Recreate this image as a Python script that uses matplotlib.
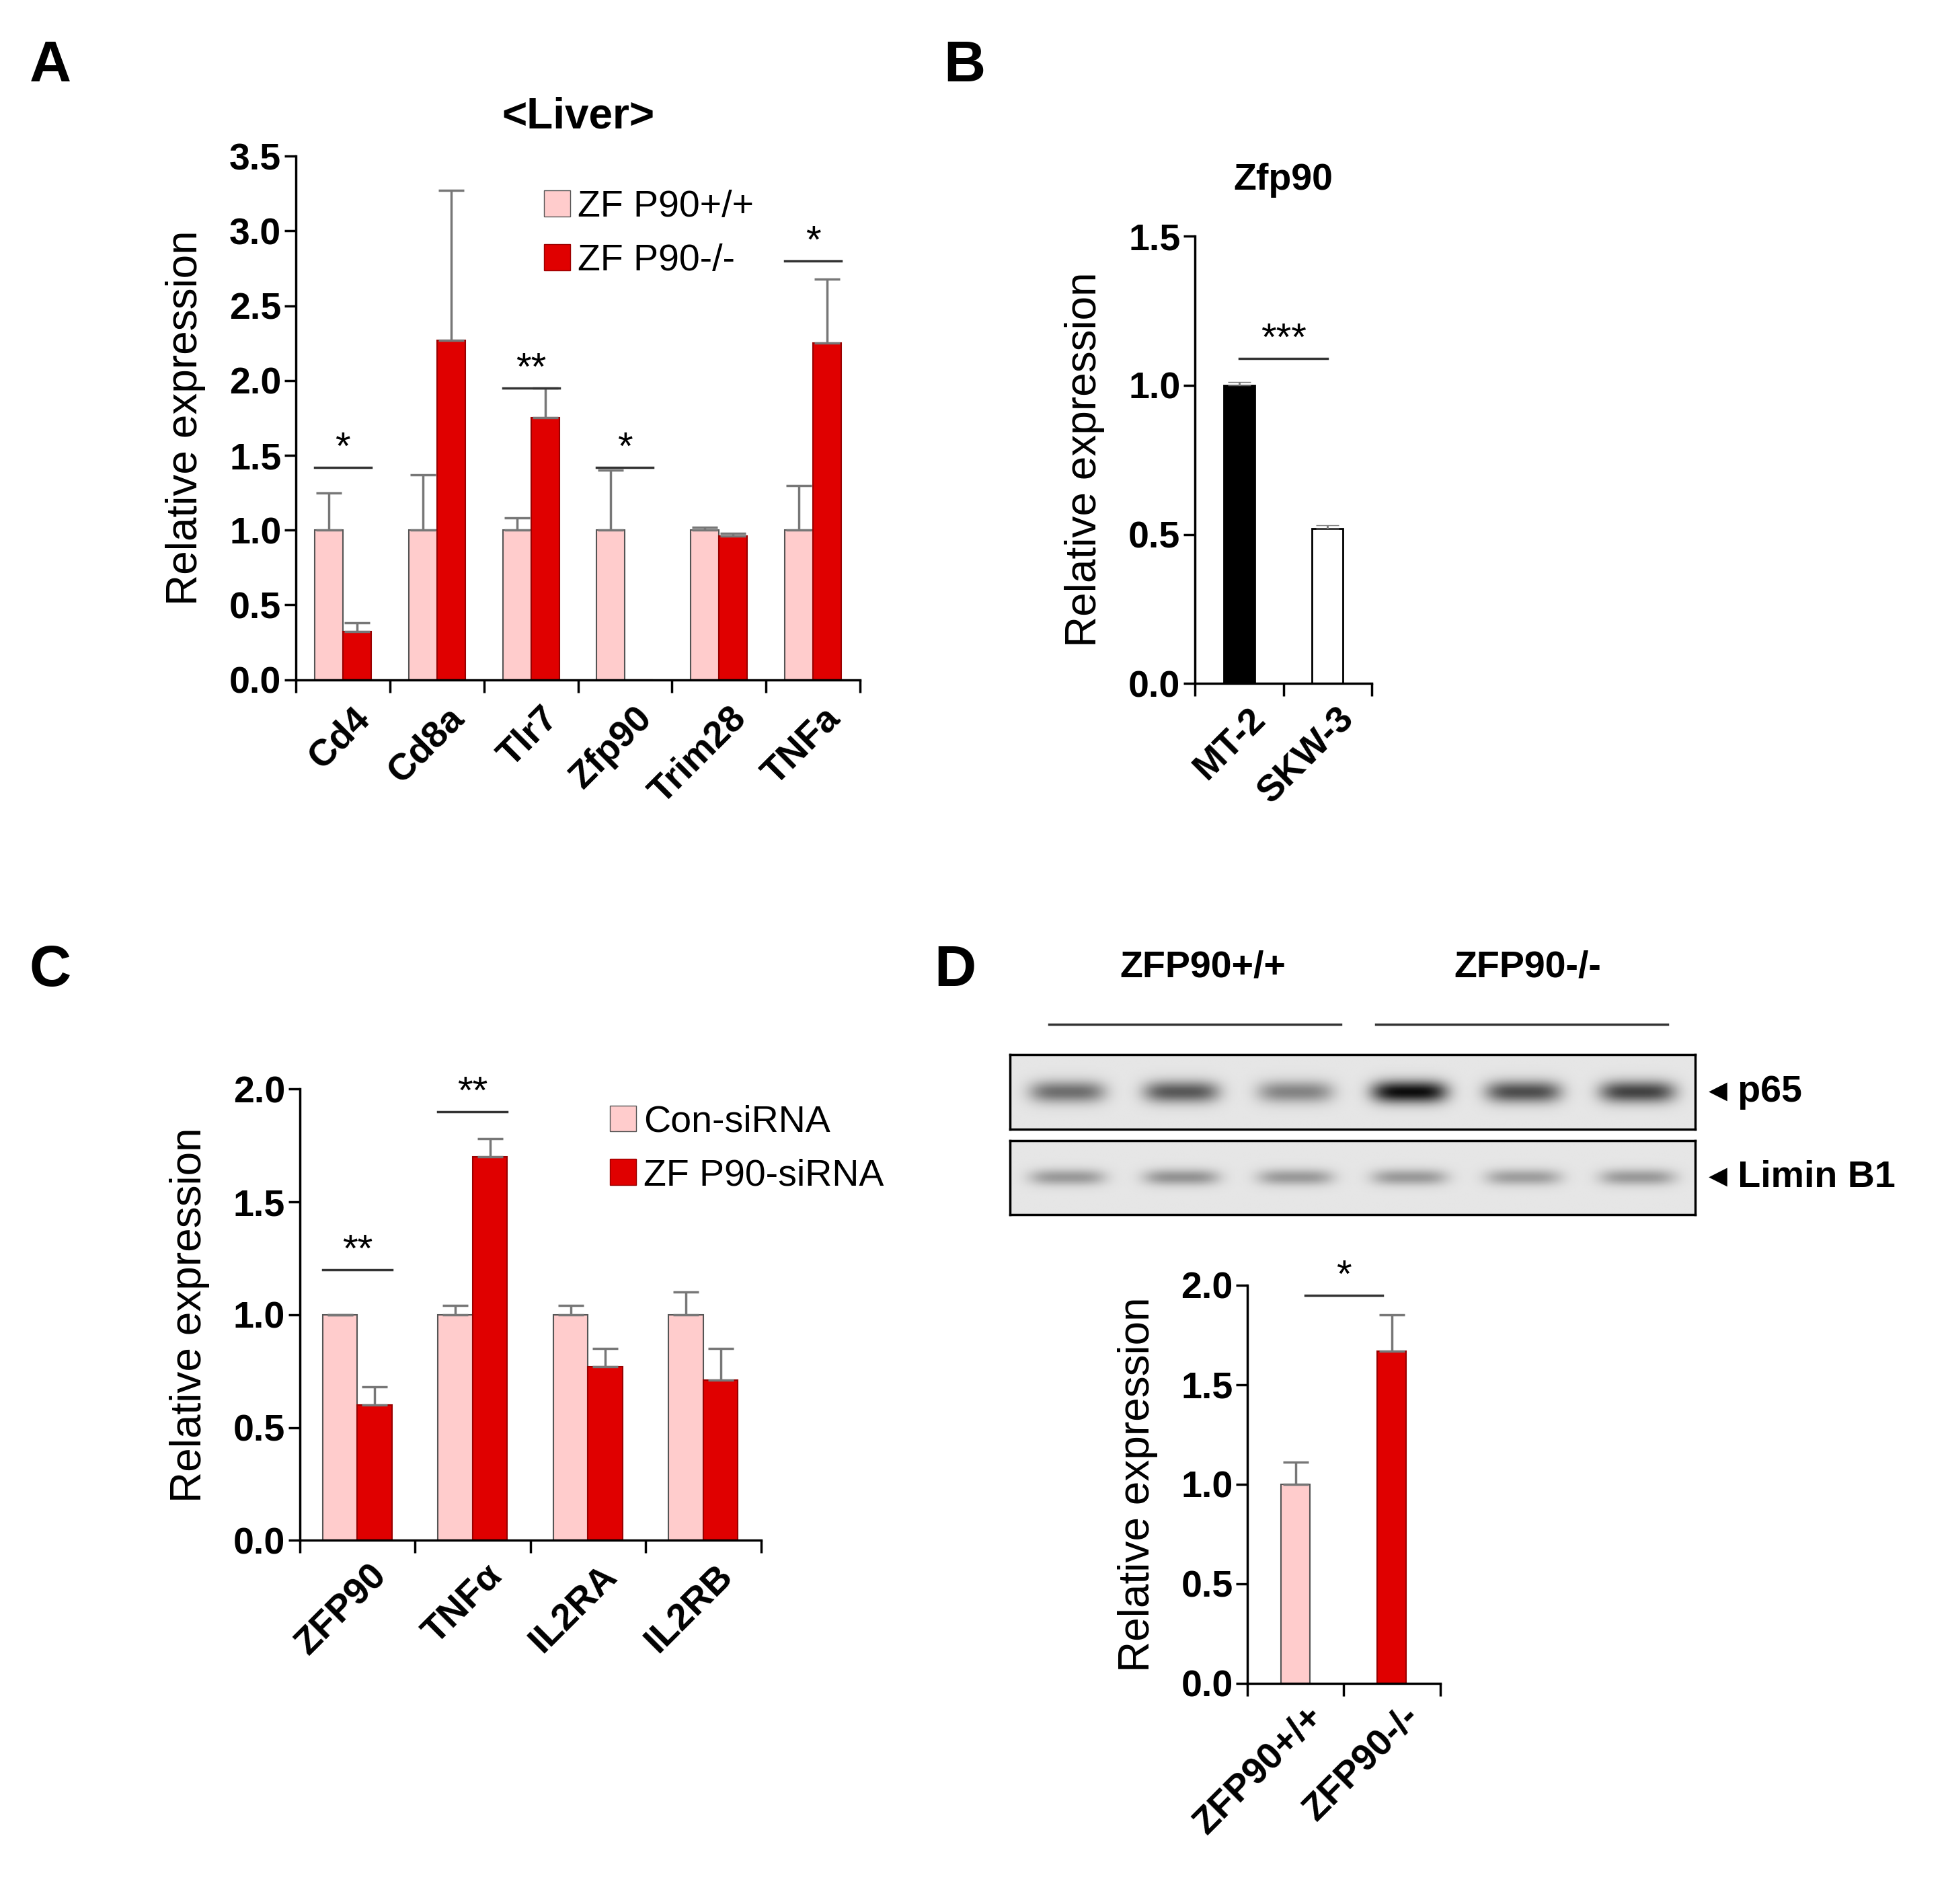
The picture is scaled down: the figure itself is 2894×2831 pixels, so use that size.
import numpy as np
import matplotlib
matplotlib.use("Agg")
import matplotlib.pyplot as plt

plt.rcParams['font.family'] = ['Liberation Sans', 'DejaVu Sans']

PINK = '#FFCCCC'
RED = '#E00000'
EDGE = '#555555'

# Panel A
genes_a = ['Cd4', 'Cd8a', 'Tlr7', 'Zfp90', 'Trim28', 'TNFa']
wt_a = [1.0, 1.0, 1.0, 1.0, 1.0, 1.0]
wt_a_err = [0.25, 0.37, 0.08, 0.40, 0.02, 0.30]
ko_a = [0.32, 2.27, 1.75, 0.0, 0.96, 2.25]
ko_a_err = [0.06, 1.0, 0.20, 0.0, 0.02, 0.43]
sig_a = [(0, 1.42, '*'), (2, 1.95, '**'), (3, 1.42, '*'), (5, 2.8, '*')]

# Panel B
cells_b = ['MT-2', 'SKW-3']
vals_b = [1.0, 0.52]
err_b = [0.01, 0.01]

# Panel C
genes_c = ['ZFP90', 'TNFα', 'IL2RA', 'IL2RB']
con_c = [1.0, 1.0, 1.0, 1.0]
con_c_err = [0.0, 0.04, 0.04, 0.10]
si_c = [0.60, 1.70, 0.77, 0.71]
si_c_err = [0.08, 0.08, 0.08, 0.14]
sig_c = [(0, 1.2, '**'), (1, 1.9, '**')]

# Panel D
groups_d = ['ZFP90+/+', 'ZFP90-/-']
vals_d = [1.0, 1.67]
err_d = [0.11, 0.18]
p65_bands = [0.55, 0.65, 0.45, 1.0, 0.7, 0.75]
lamin_bands = [0.35, 0.38, 0.35, 0.35, 0.33, 0.35]

TICK_FS = 40
LAB_FS = 46
SIG_FS = 42

fig = plt.figure(figsize=(28.94, 28.31), dpi=100)


def style(ax, ymax, step):
    for s in ['top', 'right']:
        ax.spines[s].set_visible(False)
    for s in ['left', 'bottom']:
        ax.spines[s].set_linewidth(2.5)
    ax.set_ylim(0, ymax)
    ax.set_yticks(np.arange(0, ymax + 1e-9, step))
    ax.set_yticklabels([f'{v:.1f}' for v in np.arange(0, ymax + 1e-9, step)],
                       fontsize=TICK_FS, fontweight='bold')
    ax.tick_params(axis='y', length=12, width=2.5)
    ax.set_ylabel('Relative expression', fontsize=LAB_FS, labelpad=25)


def group_ticks(ax, n, labels, rot=45):
    ax.set_xlim(-0.5, n - 0.5)
    ax.set_xticks(np.arange(n + 1) - 0.5, minor=False)
    ax.set_xticklabels([''] * (n + 1))
    ax.tick_params(axis='x', length=14, width=2.5)
    for i, lab in enumerate(labels):
        ax.text(i + 0.1, -0.04, lab, transform=ax.get_xaxis_transform(),
                rotation=rot, ha='right', va='top', fontsize=TICK_FS,
                fontweight='bold', rotation_mode='anchor')


def paired(ax, a, ae, b, be, sig, w=0.3):
    x = np.arange(len(a))
    ax.bar(x - w / 2, a, w, color=PINK, edgecolor=EDGE, linewidth=1.5)
    ax.bar(x + w / 2, b, w, color=RED, edgecolor='#990000', linewidth=1.5)
    ax.errorbar(x - w / 2, a, yerr=[np.zeros(len(a)), ae], fmt='none',
                ecolor='#777777', elinewidth=2.5, capsize=14, capthick=2.5)
    bx = [xi + w / 2 for xi, v in zip(x, b) if v > 0]
    bv = [v for v in b if v > 0]
    bev = [e for e, v in zip(be, b) if v > 0]
    ax.errorbar(bx, bv, yerr=[np.zeros(len(bv)), bev], fmt='none',
                ecolor='#777777', elinewidth=2.5, capsize=14, capthick=2.5)
    for i, y, s in sig:
        ax.plot([i - w, i + w], [y, y], color='#333333', lw=2.5)
        ax.text(i, y, s, ha='center', va='bottom', fontsize=SIG_FS)


# A
axA = fig.add_axes([0.152, 0.643, 0.29, 0.275])
paired(axA, wt_a, wt_a_err, ko_a, ko_a_err, sig_a)
style(axA, 3.5, 0.5)
group_ticks(axA, len(genes_a), genes_a)
axA.set_title('<Liver>', fontsize=LAB_FS, fontweight='bold', pad=30)
axA.bar([0], [0], color=PINK, edgecolor=EDGE, label='ZF P90+/+')
axA.bar([0], [0], color=RED, edgecolor='#990000', label='ZF P90-/-')
axA.legend(loc='upper left', bbox_to_anchor=(0.38, 1.0), fontsize=TICK_FS,
           frameon=False, handlelength=0.7, handletextpad=0.2, labelspacing=0.5)

# B
axB = fig.add_axes([0.614, 0.641, 0.091, 0.235])
xb = np.arange(2)
axB.bar(xb, vals_b, 0.35, color=['black', 'white'], edgecolor='black', linewidth=2)
axB.errorbar(xb, vals_b, yerr=[[0, 0], err_b], fmt='none', ecolor='#777777',
             elinewidth=2, capsize=12)
axB.plot([0, 1], [1.09, 1.09], color='#333333', lw=2.5)
axB.text(0.5, 1.09, '***', ha='center', va='bottom', fontsize=SIG_FS)
style(axB, 1.5, 0.5)
group_ticks(axB, 2, cells_b)
axB.set_title('Zfp90', fontsize=LAB_FS - 6, fontweight='bold', pad=50)

# C
axC = fig.add_axes([0.154, 0.191, 0.237, 0.237])
paired(axC, con_c, con_c_err, si_c, si_c_err, sig_c)
style(axC, 2.0, 0.5)
group_ticks(axC, len(genes_c), genes_c)
axC.bar([0], [0], color=PINK, edgecolor=EDGE, label='Con-siRNA')
axC.bar([0], [0], color=RED, edgecolor='#990000', label='ZF P90-siRNA')
axC.legend(loc='upper left', bbox_to_anchor=(0.6, 1.04), fontsize=TICK_FS,
           frameon=False, handlelength=0.7, handletextpad=0.2, labelspacing=0.5)

# D blot
xs = np.linspace(0, 6, 600)
ys = np.linspace(-1, 1, 60)
X, Y = np.meshgrid(xs, ys)


def blot(rect, bands, sigy, label):
    ax = fig.add_axes(rect)
    img = np.zeros_like(X)
    for i, a in enumerate(bands):
        img += a * np.exp(-((X - (i + 0.5)) / 0.33) ** 4) * np.exp(-(Y / sigy) ** 2)
    ax.imshow(0.9 - 0.85 * img, cmap='gray', vmin=0, vmax=1, aspect='auto',
              extent=[0, 6, -1, 1])
    for s in ax.spines.values():
        s.set_linewidth(2.5)
    ax.set_xticks([])
    ax.set_yticks([])
    ax.text(1.02, 0.5, '◂ ' + label, transform=ax.transAxes, va='center',
            fontsize=TICK_FS, fontweight='bold')
    return ax


blot([0.519, 0.407, 0.352, 0.039], p65_bands, 0.3, 'p65')
blot([0.519, 0.362, 0.352, 0.039], lamin_bands, 0.22, 'Limin B1')
fig.text(0.618, 0.487, 'ZFP90+/+', ha='center', fontsize=TICK_FS, fontweight='bold')
fig.text(0.785, 0.487, 'ZFP90-/-', ha='center', fontsize=TICK_FS, fontweight='bold')
fig.add_artist(plt.Line2D([0.539, 0.689], [0.462, 0.462], color='#333333', lw=2.5))
fig.add_artist(plt.Line2D([0.707, 0.857], [0.462, 0.462], color='#333333', lw=2.5))

axD = fig.add_axes([0.641, 0.116, 0.099, 0.209])
xd = np.arange(2)
axD.bar(xd, vals_d, 0.3, color=[PINK, RED], edgecolor=[EDGE, '#990000'], linewidth=1.5)
axD.errorbar(xd, vals_d, yerr=[[0, 0], err_d], fmt='none', ecolor='#777777',
             elinewidth=2.5, capsize=14, capthick=2.5)
axD.plot([0.1, 0.9], [1.95, 1.95], color='#333333', lw=2.5)
axD.text(0.5, 1.95, '*', ha='center', va='bottom', fontsize=SIG_FS)
style(axD, 2.0, 0.5)
group_ticks(axD, 2, groups_d)

for lab, x, y in [('A', 0.015, 0.965), ('B', 0.485, 0.965),
                  ('C', 0.015, 0.49), ('D', 0.48, 0.49)]:
    fig.text(x, y, lab, fontsize=62, fontweight='bold', va='center')

fig.savefig('out.png', dpi=100)
